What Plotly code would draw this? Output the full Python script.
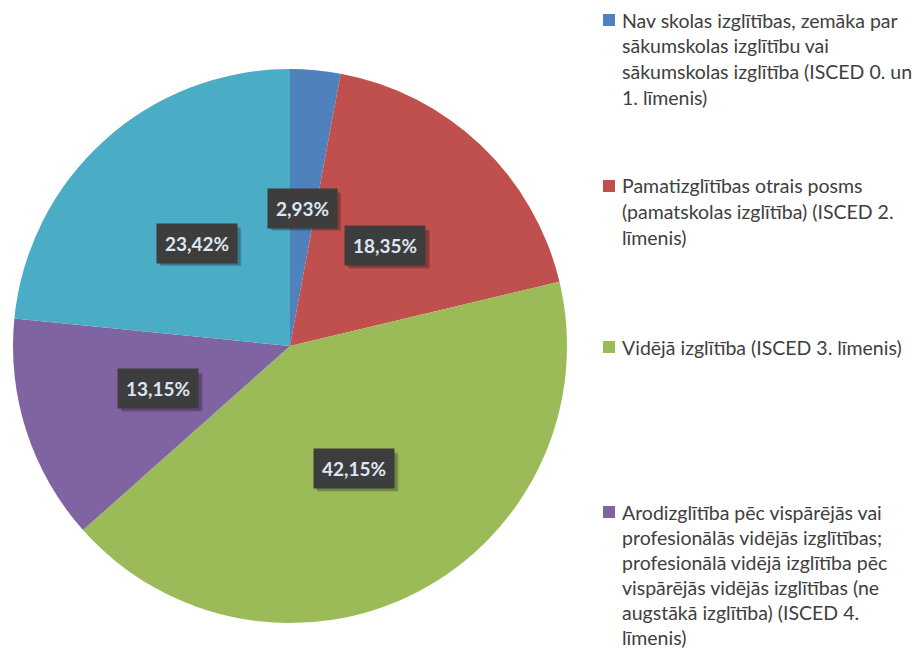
import math
import plotly.graph_objects as go

# ---- data ----
categories = [
    "Nav skolas izglītības, zemāka par sākumskolas izglītību vai sākumskolas izglītība (ISCED 0. un 1. līmenis)",
    "Pamatizglītības otrais posms (pamatskolas izglītība) (ISCED 2. līmenis)",
    "Vidējā izglītība (ISCED 3. līmenis)",
    "Arodizglītība pēc vispārējās vai profesionālās vidējās izglītības; profesionālā vidējā izglītība pēc vispārējās vidējās izglītības (ne augstākā izglītība) (ISCED 4. līmenis)",
    "Augstākā izglītība (ISCED 5.–8. līmenis)",
]
values = [2.93, 18.35, 42.15, 13.15, 23.42]
value_labels = ["2,93%", "18,35%", "42,15%", "13,15%", "23,42%"]
legend_lines = [
    ["Nav skolas izglītības, zemāka par", "sākumskolas izglītību vai",
     "sākumskolas izglītība (ISCED 0. un", "1. līmenis)"],
    ["Pamatizglītības otrais posms", "(pamatskolas izglītība) (ISCED 2.", "līmenis)"],
    ["Vidējā izglītība (ISCED 3. līmenis)"],
    ["Arodizglītība pēc vispārējās vai", "profesionālās vidējās izglītības;",
     "profesionālā vidējā izglītība pēc", "vispārējās vidējās izglītības (ne",
     "augstākā izglītība) (ISCED 4.", "līmenis)"],
]
colors = ["#4F81BD", "#C0504D", "#9BBB59", "#8064A2", "#4BACC6"]

# ---- layout constants (pixels) ----
W, H = 912, 648
cx, cy, r = 290, 346, 277
legend_tops = [20, 186, 347, 512]
line_steps = [25.7, 25.7, 25.7, 25.0]
font_family = "Lato, Carlito, Calibri, sans-serif"

fig = go.Figure()
fig.add_trace(go.Pie(
    labels=categories,
    values=values,
    sort=False,
    direction="clockwise",
    rotation=0,
    marker=dict(colors=colors, line=dict(width=0)),
    textinfo="none",
    hoverinfo="label+percent",
    showlegend=False,
    domain=dict(x=[(cx - r) / W, (cx + r) / W], y=[1 - (cy + r) / H, 1 - (cy - r) / H]),
))

annotations = []
shapes = []
total = sum(values)
cum = 0.0
for v, lab in zip(values, value_labels):
    mid = (cum + v / 2) / total * 2 * math.pi
    cum += v
    px = cx + 0.5 * r * math.sin(mid)
    py = cy - 0.5 * r * math.cos(mid)
    # soft drop shadow behind the label box
    hw = (12 * len(lab) + 9) / 2
    hh = 19
    for k, a in ((4, 0.12), (3, 0.18)):
        shapes.append(dict(
            type="rect", xref="paper", yref="paper",
            x0=(px - hw + k) / W, x1=(px + hw + k) / W,
            y0=1 - (py + hh + k) / H, y1=1 - (py - hh + k) / H,
            fillcolor="rgba(0,0,0,%.2f)" % a, line=dict(width=0),
        ))
    annotations.append(dict(
        x=px / W, y=1 - py / H, xref="paper", yref="paper", showarrow=False,
        xanchor="center", yanchor="middle",
        text="<b>" + lab + "</b>", font=dict(family=font_family, size=19, color="#DCE6F2"),
        bgcolor="#3D3D3D", borderpad=8,
    ))

for i, lines in enumerate(legend_lines):
    top = legend_tops[i]
    shapes.append(dict(
        type="rect", xref="paper", yref="paper",
        x0=603 / W, x1=615 / W, y0=1 - (top + 6) / H, y1=1 - (top - 6) / H,
        fillcolor=colors[i], line=dict(width=0),
    ))
    for j, t in enumerate(lines):
        yy = top + j * line_steps[i]
        annotations.append(dict(
            x=620 / W, y=1 - yy / H, xref="paper", yref="paper", showarrow=False,
            xanchor="left", yanchor="middle", text=t,
            font=dict(family=font_family, size=19.5, color="#404040"),
        ))

fig.update_layout(
    width=W, height=H,
    margin=dict(l=0, r=0, t=0, b=0),
    paper_bgcolor="white", plot_bgcolor="white",
    annotations=annotations, shapes=shapes,
)
fig.write_html("out.html", config={"displayModeBar": False},
               post_script="document.body.style.margin='0px';")
